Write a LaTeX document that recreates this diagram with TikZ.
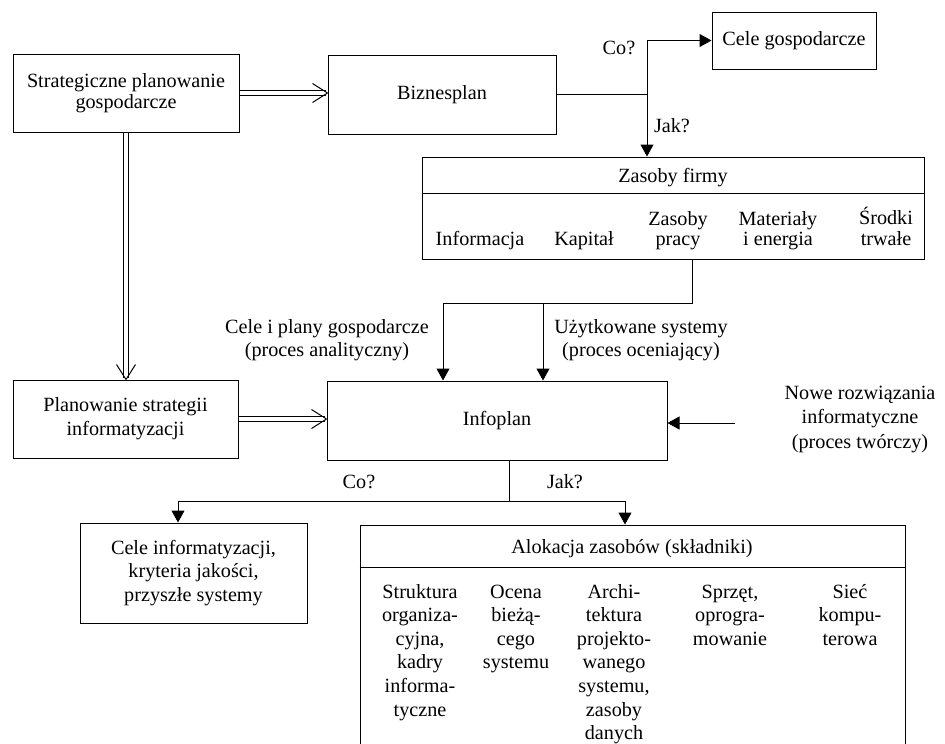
\documentclass[tikz,border=0pt]{standalone}
\usepackage{fontspec}
\setmainfont{Liberation Serif}
\usetikzlibrary{arrows.meta,calc}
\newcommand\colt[1]{\begin{tabular}[t]{@{}c@{}}#1\end{tabular}}
\newcommand\colb[1]{\begin{tabular}[b]{@{}c@{}}#1\end{tabular}}
\begin{document}
\begin{tikzpicture}[x=1pt,y=-1pt,line width=1pt,
  txt/.style={font=\fontsize{20.2}{24}\selectfont},
  box/.style={draw,align=center,inner sep=0pt,txt},
  lbl/.style={inner sep=0pt,txt},
  arr/.style={-{Triangle[length=12pt,width=13pt]}},
  dbl/.style={double,double distance=4pt}]
\clip (0,0) rectangle (945,744);
% boxes
\node[box,minimum width=226pt,minimum height=78pt,font=\fontsize{20.2}{21.5}\selectfont] (sp) at (126,93) {Strategiczne planowanie\\gospodarcze};
\node[box,minimum width=228pt,minimum height=79pt] (bp) at (442,94.5) {Biznesplan};
\node[box,minimum width=164pt,minimum height=57pt] (cg) at (794,40.5) {Cele gospodarcze};
\node[box,minimum width=502pt,minimum height=102pt] (zf) at (673,208) {};
\node[box,minimum width=225pt,minimum height=78pt] (ps) at (125.5,419) {Planowanie strategii\\informatyzacji};
\node[box,minimum width=340pt,minimum height=79pt] (ip) at (497,420.5) {Infoplan};
\node[box,minimum width=227pt,minimum height=100pt,font=\fontsize{20.2}{23.5}\selectfont] (ci) at (193.5,573) {Cele informatyzacji,\\kryteria jakości,\\przyszłe systemy};
\node[box,minimum width=545pt,minimum height=235pt] (ak) at (632.5,642.5) {};
% Zasoby firmy contents
\draw ($(zf.north west)+(0,37)$) -- ($(zf.north east)+(0,37)$);
\node[lbl,anchor=base] (zft) at (673,182) {Zasoby firmy};
\begin{scope}[font=\fontsize{20.2}{20}\selectfont]
\node[inner sep=0pt,anchor=base] (z_a) at (480,245) {\colb{Informacja}};
\node[inner sep=0pt,anchor=base] (z_b) at (584,245) {\colb{Kapitał}};
\node[inner sep=0pt,anchor=base] (z_c) at (678,245) {\colb{Zasoby\\pracy}};
\node[inner sep=0pt,anchor=base] (z_d) at (778,245) {\colb{Materiały\\i energia}};
\node[inner sep=0pt,anchor=base] (z_e) at (886,245) {\colb{Środki\\trwałe}};
\end{scope}
% Alokacja contents
\draw ($(ak.north west)+(0,43)$) -- ($(ak.north east)+(0,43)$);
\node[lbl,anchor=base] (akt) at (632,553) {Alokacja zasobów (składniki)};
\begin{scope}[font=\fontsize{20.2}{23.6}\selectfont]
\node[inner sep=0pt,anchor=base] (a_a) at (420,598) {\colt{Struktura\\organiza-\\cyjna,\\kadry\\informa-\\tyczne}};
\node[inner sep=0pt,anchor=base] (a_b) at (516,598) {\colt{Ocena\\bieżą-\\cego\\systemu}};
\node[inner sep=0pt,anchor=base] (a_c) at (614,598) {\colt{Archi-\\tektura\\projekto-\\wanego\\systemu,\\zasoby\\danych}};
\node[inner sep=0pt,anchor=base] (a_d) at (730,598) {\colt{Sprzęt,\\oprogra-\\mowanie}};
\node[inner sep=0pt,anchor=base] (a_e) at (850,598) {\colt{Sieć\\kompu-\\terowa}};
\end{scope}
% labels
\node[lbl,anchor=base] (co1) at (619,54) {Co?};
\node[lbl,anchor=base] (jak1) at (672,132) {Jak?};
\node[lbl,anchor=base] (co2) at (359,488) {Co?};
\node[lbl,anchor=base] (jak2) at (565,488) {Jak?};
\node[lbl,anchor=base,font=\fontsize{20.2}{23}\selectfont] (l1) at (327,356) {\colb{Cele i plany gospodarcze\\(proces analityczny)}};
\node[lbl,anchor=base,font=\fontsize{20.2}{23}\selectfont] (l2) at (641,356) {\colb{Użytkowane systemy\\(proces oceniający)}};
\node[lbl,anchor=base,font=\fontsize{20.2}{24.5}\selectfont] (l3) at (860,448) {\colb{Nowe rozwiązania\\informatyczne\\(proces twórczy)}};
% connectors top
\coordinate (b1) at (647,94.5);
\draw (bp.east) -- (b1);
\draw[arr] (b1) |- (cg.west);
\draw[arr] (b1) -- (b1 |- zf.north);
% zasoby to infoplan
\coordinate (z1) at (692,303);
\coordinate (z2) at (443,303);
\coordinate (z3) at (543,303);
\draw (zf.south -| z1) -- (z1) -- (z2);
\draw[arr] (z2) -- (z2 |- ip.north);
\draw[arr] (z3) -- (z3 |- ip.north);
% nowe rozwiazania
\coordinate (nw) at (735,423);
\draw[arr] (nw) -- (nw -| ip.east);
% infoplan down
\coordinate (i1) at (509,501);
\coordinate (c1) at (178,501);
\coordinate (c2) at (625,501);
\draw (ip.south -| i1) -- (i1);
\draw (c1) -- (c2);
\draw[arr] (c1) -- (c1 |- ci.north);
\draw[arr] (c2) -- (c2 |- ak.north);
% double arrows
\draw[dbl,shorten >=1.5pt] (sp.east) -- (sp.east -| bp.west);
\draw (sp.east -| bp.west) -- ++(-15,-9.5) (sp.east -| bp.west) -- ++(-15,9.5);
\draw[dbl,shorten >=1.5pt] (ps.east) -- (ps.east -| ip.west);
\draw (ps.east -| ip.west) -- ++(-15,-9.5) (ps.east -| ip.west) -- ++(-15,9.5);
\draw[dbl,shorten >=1.5pt] (sp.south) -- (sp.south |- ps.north);
\draw (sp.south |- ps.north) -- ++(-9.5,-15) (sp.south |- ps.north) -- ++(9.5,-15);
\end{tikzpicture}
\end{document}
